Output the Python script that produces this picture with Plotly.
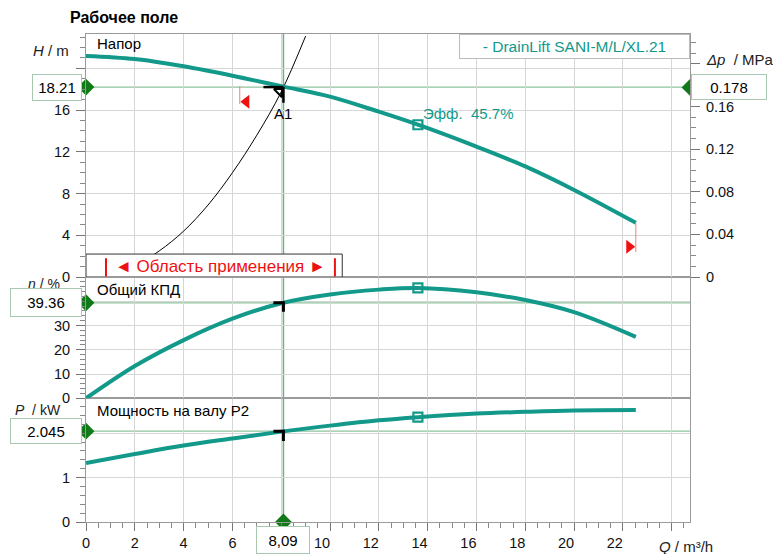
import plotly.graph_objects as go

# ---------------- data ----------------
Q_H = [0, 2, 4, 6, 8, 10, 12, 13.6, 16, 18, 20, 22.53]
H = [21.2, 20.9, 20.2, 19.3, 18.3, 17.3, 15.85, 14.6, 12.5, 10.6, 8.35, 5.2]

Q_ETA = [0, 2, 4, 6, 8, 10, 12, 13.6, 16, 18, 20, 22.53]
ETA = [0, 13.3, 24.0, 32.8, 39.2, 42.8, 44.8, 45.5, 43.7, 40.5, 35.5, 25.3]

Q_P = [0, 2, 4, 6, 8, 10, 12, 13.6, 16, 18, 20, 22.53]
P = [1.33, 1.53, 1.72, 1.88, 2.035, 2.17, 2.29, 2.36, 2.44, 2.48, 2.51, 2.52]

Q_SYS = [0, 1, 2, 3, 4, 5, 6, 7, 8, 9]
H_SYS = [0, 0.28, 1.1, 2.5, 4.4, 6.9, 10.0, 13.6, 17.75, 23.1]

Q_DUTY = 8.09
H_DUTY = 18.21
DP_DUTY = 0.178
ETA_DUTY = 39.36
P_DUTY = 2.045

Q_BEP = 13.6
H_BEP = 14.6
ETA_BEP = 45.5
P_BEP = 2.36

Q_MIN_LIMIT = 6.3
Q_MAX_LIMIT = 22.53

X_TICKS = [0, 2, 4, 6, 8, 10, 12, 14, 16, 18, 20, 22, 24]
H_TICKS = [0, 4, 8, 12, 16, 20]
DP_TICKS = [0, 0.04, 0.08, 0.12, 0.16, 0.20]
ETA_TICKS = [0, 10, 20, 30, 40]
P_TICKS = [0, 1, 2]

X_MAX = 24.75
H_MAX = 23.3
MPA_PER_M = 0.009790
ETA_MAX = 50
P_MAX = 2.785

# ---------------- style ----------------
TEAL = "#12998a"
GREEN_LINE = "#8fc39d"
GREEN_V = "#6fae84"
DIAMOND = "#107a18"
BOXLINE = "#a9c8b0"
GRID = "#d6d6d6"
FRAME = "#9a9a9a"
FONT = "Liberation Sans, Arial, sans-serif"

W, Hh = 773, 554
ML, MR, MT, MB = 86, 83, 34, 32
PW = W - ML - MR
PH = Hh - MT - MB


def px_x(px):
    return (px - ML) / PW


def px_y(py):
    return (Hh - MB - py) / PH


D_TOP = [px_y(277), 1]
D_ETA = [px_y(398.3), px_y(277)]
D_P = [0, px_y(398.3)]

fig = go.Figure()

# curves
fig.add_trace(go.Scatter(x=Q_SYS, y=H_SYS, xaxis="x3", yaxis="y", mode="lines",
                         line=dict(color="black", width=1, shape="spline"), hoverinfo="skip"))
fig.add_trace(go.Scatter(x=Q_H, y=H, xaxis="x3", yaxis="y", mode="lines",
                         line=dict(color=TEAL, width=4, shape="spline"), hoverinfo="skip"))
fig.add_trace(go.Scatter(x=Q_ETA, y=ETA, xaxis="x2", yaxis="y3", mode="lines",
                         line=dict(color=TEAL, width=4, shape="spline"), hoverinfo="skip"))
fig.add_trace(go.Scatter(x=Q_P, y=P, xaxis="x", yaxis="y4", mode="lines",
                         line=dict(color=TEAL, width=4, shape="spline"), hoverinfo="skip"))

# best efficiency markers
sq = dict(symbol="square-open", size=9, color=TEAL, line=dict(width=2.2, color=TEAL))
fig.add_trace(go.Scatter(x=[Q_BEP], y=[H_BEP], xaxis="x3", yaxis="y", mode="markers", marker=sq))
fig.add_trace(go.Scatter(x=[Q_BEP], y=[ETA_BEP], xaxis="x2", yaxis="y3", mode="markers", marker=sq))
fig.add_trace(go.Scatter(x=[Q_BEP], y=[P_BEP], xaxis="x", yaxis="y4", mode="markers", marker=sq))

# red limit triangles
fig.add_trace(go.Scatter(x=[Q_MIN_LIMIT + 0.27], y=[16.8], xaxis="x3", yaxis="y", mode="markers",
                         marker=dict(symbol="triangle-left", size=12, color="#ee1111")))
fig.add_trace(go.Scatter(x=[Q_MAX_LIMIT - 0.27], y=[2.9], xaxis="x3", yaxis="y", mode="markers",
                         marker=dict(symbol="triangle-right", size=12, color="#ee1111")))

# duty-point small triangle
fig.add_trace(go.Scatter(x=[Q_DUTY - 0.17], y=[H_DUTY - 0.45], xaxis="x3", yaxis="y", mode="markers",
                         marker=dict(symbol="triangle-ne-open", size=9, color="black",
                                     line=dict(width=2, color="black"))))

# diamonds
dm = dict(symbol="diamond", size=13, color=DIAMOND)
fig.add_trace(go.Scatter(x=[0], y=[H_DUTY], xaxis="x3", yaxis="y", mode="markers", marker=dm, cliponaxis=False))
fig.add_trace(go.Scatter(x=[X_MAX], y=[DP_DUTY], xaxis="x3", yaxis="y2", mode="markers", marker=dm, cliponaxis=False))
fig.add_trace(go.Scatter(x=[0], y=[ETA_DUTY], xaxis="x2", yaxis="y3", mode="markers", marker=dm, cliponaxis=False))
fig.add_trace(go.Scatter(x=[0], y=[P_DUTY], xaxis="x", yaxis="y4", mode="markers", marker=dm, cliponaxis=False))
fig.add_trace(go.Scatter(x=[Q_DUTY], y=[0], xaxis="x", yaxis="y4", mode="markers", marker=dm, cliponaxis=False))

shapes = []
# duty lines
shapes.append(dict(type="line", xref="x", yref="paper", x0=Q_DUTY, x1=Q_DUTY, y0=0, y1=1,
                   line=dict(color=GREEN_V, width=1.5), layer="below"))
for yr, val in (("y", H_DUTY), ("y3", ETA_DUTY), ("y4", P_DUTY)):
    shapes.append(dict(type="line", xref="paper", yref=yr, x0=0, x1=1, y0=val, y1=val,
                       line=dict(color=GREEN_LINE, width=1.3), layer="below"))
# red thin limit lines
shapes.append(dict(type="line", xref="x3", yref="y", x0=Q_MIN_LIMIT, x1=Q_MIN_LIMIT, y0=16.6, y1=18.3,
                   line=dict(color="#f08080", width=1)))
shapes.append(dict(type="line", xref="x3", yref="y", x0=Q_MAX_LIMIT, x1=Q_MAX_LIMIT, y0=2.4, y1=5.2,
                   line=dict(color="#f08080", width=1)))
# duty marks
shapes.append(dict(type="line", xref="x3", yref="y", x0=Q_DUTY - 0.82, x1=Q_DUTY, y0=H_DUTY, y1=H_DUTY,
                   line=dict(color="black", width=2.5)))
shapes.append(dict(type="line", xref="x3", yref="y", x0=Q_DUTY, x1=Q_DUTY, y0=H_DUTY, y1=H_DUTY - 1.5,
                   line=dict(color="black", width=2.5)))
shapes.append(dict(type="path", xref="x2", yref="y3",
                   path=f"M {Q_DUTY-0.41} {ETA_DUTY} L {Q_DUTY} {ETA_DUTY} L {Q_DUTY} {ETA_DUTY-3.7}",
                   line=dict(color="black", width=3)))
shapes.append(dict(type="path", xref="x", yref="y4",
                   path=f"M {Q_DUTY-0.41} {P_DUTY} L {Q_DUTY} {P_DUTY} L {Q_DUTY} {P_DUTY-0.22}",
                   line=dict(color="black", width=3)))
# application range box
shapes.append(dict(type="rect", xref="x3", yref="y", x0=0, x1=10.5, y0=0, y1=2.2,
                   line=dict(color="#333333", width=1), fillcolor="white", layer="above"))
for xv in (0.82, 10.2):
    shapes.append(dict(type="line", xref="x3", yref="y", x0=xv, x1=xv, y0=0.05, y1=1.8,
                       line=dict(color="#ee1111", width=2), layer="above"))

ann = []
base = dict(showarrow=False, font=dict(family=FONT, size=15, color="black"))


def A(**kw):
    d = dict(base)
    d.update(kw)
    ann.append(d)


A(text="<b>Рабочее поле</b>", xref="paper", yref="paper", x=px_x(68), y=px_y(18),
  xanchor="left", yanchor="middle", font=dict(family=FONT, size=16, color="black"))
A(text="Напор", xref="paper", yref="paper", x=px_x(95), y=px_y(44), xanchor="left", yanchor="middle")
A(text="Общий КПД", xref="paper", yref="paper", x=px_x(95), y=px_y(289), xanchor="left", yanchor="middle")
A(text="Мощность на валу P2", xref="paper", yref="paper", x=px_x(95), y=px_y(410), xanchor="left", yanchor="middle")
A(text="◄ Область применения ►", xref="x3", yref="y", x=5.5, y=1.05, xanchor="center", yanchor="middle",
  font=dict(family=FONT, size=17, color="#ee1111"))
A(text="A1", xref="x3", yref="y", x=Q_DUTY, y=H_DUTY, yshift=-26, xanchor="center", yanchor="middle")
A(text="Эфф.  45.7%", xref="x3", yref="y", x=Q_BEP, y=H_BEP, xshift=3, yshift=11,
  xanchor="left", yanchor="middle", font=dict(family=FONT, size=15, color=TEAL))
A(text="- DrainLift SANI-M/L/XL.21", xref="paper", yref="paper", x=1, y=1, xanchor="right", yanchor="top",
  font=dict(family=FONT, size=15.5, color=TEAL), bgcolor="white", bordercolor="#bbbbbb", borderwidth=1,
  borderpad=2, width=225, height=19)

# axis titles
A(text="<i>H</i> / m", xref="paper", yref="paper", x=px_x(71), y=px_y(50), xanchor="right", yanchor="middle",
  font=dict(family=FONT, size=15, color="#222"))
A(text="<i>Δp</i>  / MPa", xref="paper", yref="paper", x=px_x(704), y=px_y(59), xanchor="left", yanchor="middle",
  font=dict(family=FONT, size=15, color="#222"))
A(text="<i>η</i> / %", xref="paper", yref="paper", x=px_x(62), y=px_y(284), xanchor="right", yanchor="middle",
  font=dict(family=FONT, size=14, color="#222"))
A(text="<i>P</i>  / kW", xref="paper", yref="paper", x=px_x(63), y=px_y(410), xanchor="right", yanchor="middle",
  font=dict(family=FONT, size=14, color="#222"))
A(text="<i>Q</i> / m³/h", xref="paper", yref="paper", x=px_x(657), y=px_y(546), xanchor="left", yanchor="middle",
  font=dict(family=FONT, size=15, color="#222"))

# value boxes
box = dict(bgcolor="white", bordercolor=BOXLINE, borderwidth=1, borderpad=2,
           font=dict(family=FONT, size=15, color="black"))
A(text=f"{H_DUTY:.2f}", xref="paper", yref="y", x=px_x(82), y=H_DUTY, xanchor="right", yanchor="middle",
  width=44, height=21, **box)
A(text=f"{DP_DUTY:.3f}", xref="paper", yref="y2", x=px_x(691), y=DP_DUTY, xanchor="left", yanchor="middle",
  width=70, height=20, **box)
A(text=f"{ETA_DUTY:.2f}", xref="paper", yref="y3", x=px_x(82), y=ETA_DUTY, xanchor="right", yanchor="middle",
  width=66, height=23, **box)
A(text=f"{P_DUTY:.3f}", xref="paper", yref="y4", x=px_x(82), y=P_DUTY, xanchor="right", yanchor="middle",
  width=66, height=20, **box)
A(text=f"{Q_DUTY:.2f}".replace(".", ","), xref="x", yref="paper", x=Q_DUTY, y=0, yshift=-4,
  xanchor="center", yanchor="top", width=48, height=22, **box)

tickfont = dict(family=FONT, size=14.5, color="#111")
NB = "\u00a0" * 4
# labels hidden in the reference (covered by value boxes / axis titles) are left empty
x_text = [("" if v in (8, 24) else (f"{v}{NB}" if v >= 10 else f"{v}")) for v in X_TICKS]

common_x = dict(range=[0, X_MAX], showgrid=True, gridcolor=GRID, gridwidth=1, zeroline=False,
                showline=True, linecolor=FRAME, mirror=True, tickmode="array", tickvals=X_TICKS,
                automargin=False)


def yax(domain, anchor, rng, tickvals, ticktext, minor_dtick):
    return dict(domain=domain, anchor=anchor, range=rng, tickmode="array", tickvals=tickvals,
                ticktext=ticktext, ticks="outside", ticklen=9, tickcolor="#777", tickwidth=1,
                showgrid=True, gridcolor=GRID, zeroline=False, showline=True, linecolor=FRAME,
                mirror=True, tickfont=tickfont, ticklabelstandoff=3, automargin=False,
                minor=dict(tickmode="linear", tick0=0, dtick=minor_dtick, ticks="outside",
                           ticklen=5, tickcolor="#888", showgrid=False))


fig.update_layout(
    width=W, height=Hh, margin=dict(l=ML, r=MR, t=MT, b=MB, autoexpand=False),
    paper_bgcolor="white", plot_bgcolor="white", showlegend=False,
    font=dict(family=FONT, size=14, color="black"),
    xaxis=dict(**common_x, anchor="y4", domain=[0, 1], ticktext=x_text, ticks="outside", ticklen=8,
               tickcolor="#777", tickfont=tickfont,
               minor=dict(tickmode="linear", tick0=0, dtick=0.5, ticks="outside", ticklen=5,
                          tickcolor="#888", showgrid=False)),
    xaxis2=dict(**common_x, anchor="y3", domain=[0, 1], matches="x", showticklabels=False, ticks=""),
    xaxis3=dict(**common_x, anchor="y", domain=[0, 1], matches="x", showticklabels=False, ticks=""),
    yaxis=yax(D_TOP, "x3", [0, H_MAX], H_TICKS, [("" if v == 20 else str(v)) for v in H_TICKS], 1),
    yaxis2=dict(overlaying="y", side="right", anchor="x3", range=[0, H_MAX * MPA_PER_M],
                tickmode="array", tickvals=DP_TICKS,
                ticktext=[("0" if v == 0 else ("" if abs(v - 0.2) < 1e-9 else f"{v:.2f}")) for v in DP_TICKS],
                ticks="outside", ticklen=9, tickcolor="#777", showgrid=False, zeroline=False,
                showline=False, tickfont=tickfont, ticklabelstandoff=3, automargin=False,
                minor=dict(tickmode="linear", tick0=0, dtick=0.01, ticks="outside", ticklen=5,
                           tickcolor="#888", showgrid=False)),
    yaxis3=yax(D_ETA, "x2", [0, ETA_MAX], ETA_TICKS, [("" if v == 40 else str(v)) for v in ETA_TICKS], 2),
    yaxis4=yax(D_P, "x", [0, P_MAX], P_TICKS, [("" if v == 2 else str(v)) for v in P_TICKS], 0.2),
    shapes=shapes, annotations=ann,
)

fig.write_html("out.html", config={"displayModeBar": False, "staticPlot": True},
               post_script="document.body.style.margin='0';document.body.style.padding='0';"
                           "document.documentElement.style.overflow='hidden';")
